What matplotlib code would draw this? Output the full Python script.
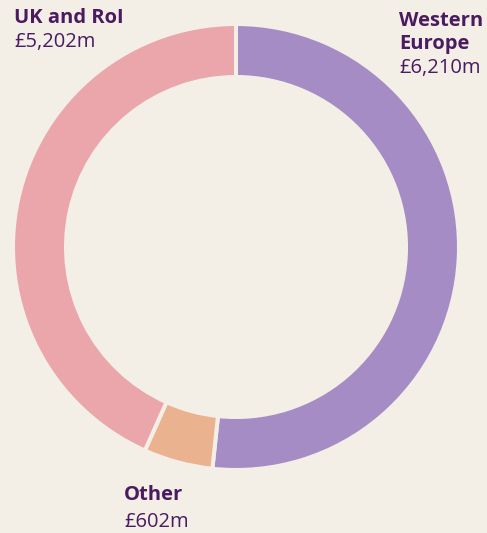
import matplotlib
matplotlib.use("Agg")
import matplotlib.pyplot as plt

# Revenue by region (in order, clockwise from the top)
regions = ["Western\nEurope", "Other", "UK and RoI"]
values = [6210, 602, 5202]
value_labels = ["£6,210m", "£602m", "£5,202m"]
colors = ["#A68CC5", "#EBB28F", "#EBA6AB"]

BG = "#F3EFE7"
TEXT = "#4A1B5E"

W, H = 487, 533
fig = plt.figure(figsize=(W / 100, H / 100), dpi=100)
fig.patch.set_facecolor(BG)
ax = fig.add_axes([0, 0, 1, 1])
ax.set_facecolor(BG)

# pie drawn in a y-down frame: counterclock=True in data terms appears clockwise
ax.pie(values, colors=colors, startangle=-90, counterclock=True,
       center=(236, 247), radius=223, frame=True,
       wedgeprops=dict(width=53, edgecolor=BG, linewidth=2.9))
ax.set_xlim(0, W)
ax.set_ylim(H, 0)
ax.axis("off")

font = "Open Sans"
fs = 14.5


def label(x, y_lines, name, value, ha="left"):
    lines = name.split("\n")
    for i, ln in enumerate(lines):
        ax.text(x, y_lines[i], ln, fontsize=fs, fontweight="bold", color=TEXT,
                family=font, ha=ha, va="baseline")
    ax.text(x, y_lines[len(lines)], value, fontsize=fs, color=TEXT,
            family=font, ha=ha, va="baseline")


label(14, [23, 47], regions[2], value_labels[2])
label(399, [26, 49, 73], regions[0], value_labels[0])
label(124, [500, 527], regions[1], value_labels[1])

fig.savefig("out.png", dpi=100, facecolor=BG)
